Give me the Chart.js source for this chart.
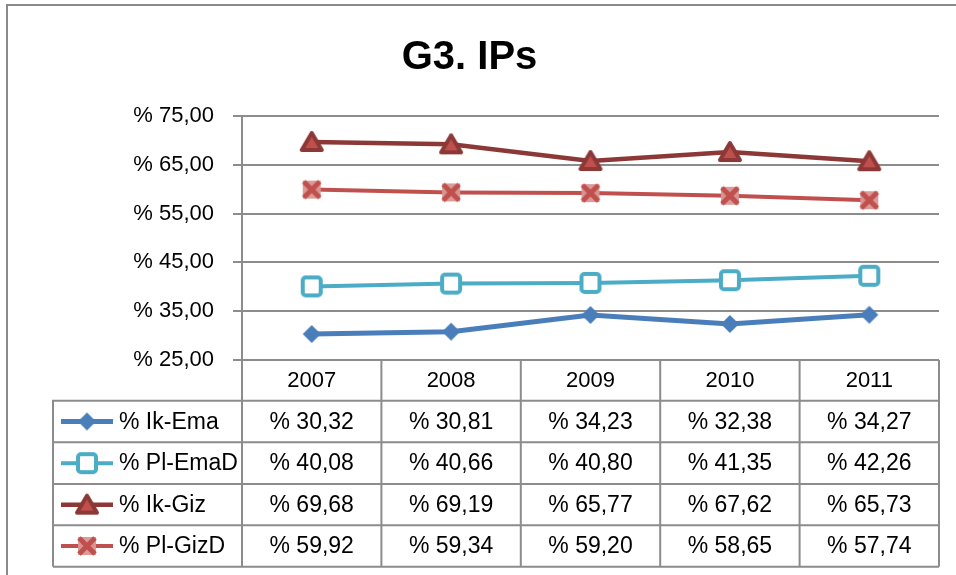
<!DOCTYPE html>
<html>
<head>
<meta charset="utf-8">
<script src="https://cdn.jsdelivr.net/npm/chart.js@4/dist/chart.umd.min.js"></script>
<style>
    body { margin: 0; background: #fff; }
    #frame { position: absolute; left: 6px; top: 4px; width: 960px; height: 580px;
             border-left: 2px solid #8a8a8a; border-top: 2px solid #8a8a8a; }
    #myChart { position: absolute; left: 0; top: 0; }
</style>
</head>
<body>
<div id="frame"></div>
<canvas id="myChart" width="956" height="575"></canvas>
<script>
// data
const years = ['2007', '2008', '2009', '2010', '2011'];
const seriesNames = ['% Ik-Ema', '% Pl-EmaD', '% Ik-Giz', '% Pl-GizD'];
const ikEma = [30.32, 30.81, 34.23, 32.38, 34.27];
const plEmaD = [40.08, 40.66, 40.80, 41.35, 42.26];
const ikGiz = [69.68, 69.19, 65.77, 67.62, 65.73];
const plGizD = [59.92, 59.34, 59.20, 58.65, 57.74];
const yTicks = [25, 35, 45, 55, 65, 75];

const FONT = "'Liberation Sans', Arial, sans-serif";
const GRID = '#8c8c8c';

function pct(v) {
    return '% ' + v.toFixed(2).replace('.', ',');
}

// marker pictures, excel 2007 style
function marker(w, h, draw) {
    let c = document.createElement('canvas');
    c.width = w; c.height = h;
    draw(c.getContext('2d'));
    return c;
}
const diamond = marker(20, 20, ctx => {
    ctx.fillStyle = '#4A7EBB';
    ctx.beginPath();
    ctx.moveTo(10, 1); ctx.lineTo(19, 10); ctx.lineTo(10, 19); ctx.lineTo(1, 10);
    ctx.closePath(); ctx.fill();
});
const square = marker(24, 24, ctx => {
    ctx.fillStyle = '#fff';
    ctx.strokeStyle = '#4BACC6';
    ctx.lineWidth = 4;
    ctx.beginPath();
    ctx.roundRect(3, 3, 18, 18, 3);
    ctx.fill(); ctx.stroke();
});
const triangle = marker(26, 24, ctx => {
    ctx.fillStyle = '#C0504D';
    ctx.strokeStyle = '#8C3836';
    ctx.lineWidth = 4;
    ctx.lineJoin = 'round';
    ctx.beginPath();
    ctx.moveTo(13, 3); ctx.lineTo(23, 20); ctx.lineTo(3, 20);
    ctx.closePath(); ctx.fill(); ctx.stroke();
});
const cross = marker(22, 22, ctx => {
    ctx.fillStyle = 'rgba(217,150,148,0.95)';
    ctx.fillRect(2, 2, 18, 18);
    ctx.strokeStyle = '#C0504D';
    ctx.lineWidth = 5;
    ctx.beginPath();
    ctx.moveTo(3, 3); ctx.lineTo(19, 19);
    ctx.moveTo(19, 3); ctx.lineTo(3, 19);
    ctx.stroke();
});

// data table under the plot, cells placed from the x scale
const tableRows = [400.7, 442.3, 484, 525.3, 566.7];
const tableLeft = 53;

const dataTable = {
    id: 'dataTable',
    afterDraw(chart) {
        const ctx = chart.ctx;
        const area = chart.chartArea;
        const x = chart.scales.x;
        const half = (x.getPixelForValue(1) - x.getPixelForValue(0)) / 2;
        const top = area.bottom;
        const bottom = tableRows[tableRows.length - 1];

        ctx.save();
        ctx.strokeStyle = GRID;
        ctx.lineWidth = 2;
        ctx.beginPath();
        // horizontal lines
        tableRows.forEach(y => {
            ctx.moveTo(tableLeft, y); ctx.lineTo(area.right, y);
        });
        // vertical lines
        ctx.moveTo(tableLeft, tableRows[0] - 1); ctx.lineTo(tableLeft, bottom);
        for (let i = 0; i < years.length; i++) {
            let px = x.getPixelForValue(i) - half;
            ctx.moveTo(px, top); ctx.lineTo(px, bottom);
        }
        ctx.moveTo(area.right, top); ctx.lineTo(area.right, bottom);
        ctx.stroke();

        ctx.fillStyle = '#000';
        ctx.textBaseline = 'middle';
        ctx.textAlign = 'center';
        ctx.font = '22px ' + FONT;
        years.forEach((yr, i) => {
            ctx.fillText(yr, x.getPixelForValue(i), (top + tableRows[0]) / 2 + 1);
        });

        ctx.font = '23px ' + FONT;
        chart.data.datasets.forEach((ds, r) => {
            let cy = (tableRows[r] + tableRows[r + 1]) / 2 + 1;
            ds.data.forEach((v, i) => {
                ctx.textAlign = 'center';
                ctx.fillText(pct(v), x.getPixelForValue(i), cy);
            });
            // legend key
            ctx.strokeStyle = ds.borderColor;
            ctx.lineWidth = ds.borderWidth;
            ctx.beginPath();
            ctx.moveTo(61, cy - 1); ctx.lineTo(113, cy - 1);
            ctx.stroke();
            let img = ds.pointStyle;
            ctx.drawImage(img, 87 - img.width / 2, cy - 1 - img.height / 2);
            ctx.textAlign = 'left';
            ctx.fillText(ds.label, 119, cy);
        });
        ctx.restore();
    }
};

var ctx = document.getElementById('myChart').getContext('2d');
var myChart = new Chart(ctx, {
    type: 'line',
    data: {
        labels: years,
        datasets: [
            { label: seriesNames[0], data: ikEma, borderColor: '#4A7EBB', borderWidth: 5, pointStyle: diamond },
            { label: seriesNames[1], data: plEmaD, borderColor: '#4BACC6', borderWidth: 4, pointStyle: square },
            { label: seriesNames[2], data: ikGiz, borderColor: '#8C3836', borderWidth: 4.5, pointStyle: triangle },
            { label: seriesNames[3], data: plGizD, borderColor: '#C0504D', borderWidth: 4, pointStyle: cross }
        ]
    },
    options: {
        responsive: false,
        animation: false,
        devicePixelRatio: 1,
        layout: { padding: { left: 0, right: 17, bottom: 215 } },
        elements: { line: { tension: 0 }, point: { radius: 10 } },
        plugins: {
            legend: { display: false },
            tooltip: { enabled: false },
            title: {
                display: true,
                text: 'G3. IPs',
                color: '#000',
                font: { family: FONT, size: 40, weight: 'bold', lineHeight: 1.2 },
                padding: { top: 34, bottom: 34 }
            }
        },
        scales: {
            x: { display: false, offset: true },
            y: {
                min: yTicks[0],
                max: yTicks[yTicks.length - 1],
                afterFit: s => { s.width = 242; },
                afterBuildTicks: s => { s.ticks = yTicks.map(v => ({ value: v })); },
                ticks: {
                    color: '#000',
                    padding: 19,
                    font: { family: FONT, size: 22 },
                    callback: v => pct(v)
                },
                grid: { color: GRID, lineWidth: 2, tickLength: 9 },
                border: { color: GRID, width: 2 }
            }
        }
    },
    plugins: [dataTable]
});
</script>
</body>
</html>
